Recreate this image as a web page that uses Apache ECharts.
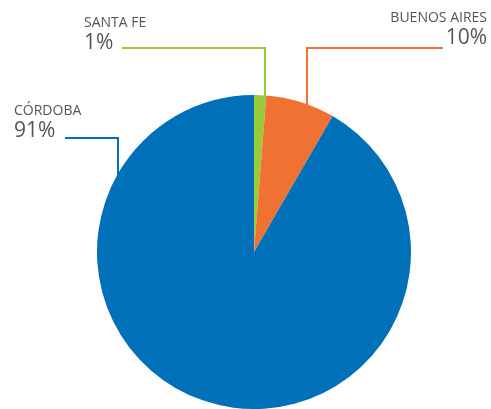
<!DOCTYPE html>
<html><head><meta charset="utf-8">
<script src="https://cdn.jsdelivr.net/npm/echarts@6/dist/echarts.min.js"></script>
<style>html,body{margin:0;padding:0;background:#fff}#c{width:491px;height:409px}</style>
</head><body><div id="c"></div>
<script>
const categories = ['SANTA FE', 'BUENOS AIRES', 'CÓRDOBA'];
const values = [1.25, 7.1, 91.65];
const percentLabels = ['1%', '10%', '91%'];
const colors = ['#9BC93C', '#F07232', '#0070B9'];

const labelSpots = [
  {x: 84, y: 14, align: 'left', pts: [[265, 96], [265, 48], [122, 48]]},
  {x: 487, y: 9, align: 'right', pts: [[307, 105], [307, 48], [443, 48]]},
  {x: 14, y: 102, align: 'left', pts: [[118, 176], [118, 138], [65, 138]]}
];

const chart = echarts.init(document.getElementById('c'), null, {renderer: 'canvas'});
chart.setOption({
  animation: false,
  series: [{
    type: 'pie',
    center: [254, 252],
    radius: 157,
    startAngle: 90,
    clockwise: true,
    avoidLabelOverlap: false,
    data: categories.map((c, i) => ({
      name: c, value: values[i],
      itemStyle: {color: colors[i]},
      labelLine: {lineStyle: {color: colors[i], width: 2}}
    })),
    label: {
      show: true,
      position: 'outside',
      formatter: p => '{n|' + p.name + '}\n{v|' + percentLabels[p.dataIndex] + '}',
      rich: {
        n: {fontFamily: 'Open Sans', fontSize: 14, lineHeight: 18, color: '#555555'},
        v: {fontFamily: 'Open Sans', fontSize: 21, lineHeight: 22, color: '#555555'}
      }
    },
    labelLine: {show: true, length: 10, length2: 10},
    labelLayout: function (p) {
      const s = labelSpots[p.dataIndex];
      return {x: s.x, y: s.y, align: s.align, verticalAlign: 'top', labelLinePoints: s.pts};
    },
    emphasis: {disabled: true}
  }]
});
</script></body></html>
